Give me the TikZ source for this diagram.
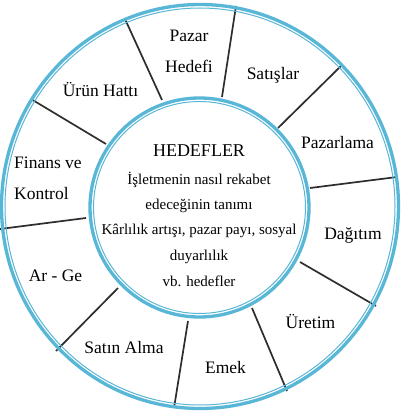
\documentclass[tikz,border=0pt]{standalone}
\usepackage{fontspec}
\setmainfont{Liberation Serif}
\definecolor{ringblue}{RGB}{88,182,214}
\definecolor{spoke}{RGB}{45,45,45}
\begin{document}
\begin{tikzpicture}[x=1pt,y=-1pt,
  ringthick/.style={draw=ringblue,line width=3.3pt},
  ringthin/.style={draw=ringblue,line width=1pt},
  spokeline/.style={draw=spoke,line width=1.7pt},
  lab/.style={inner sep=0pt,anchor=base,font=\fontsize{17.5}{20}\selectfont},
  ctr/.style={inner sep=0pt,anchor=base,font=\fontsize{15}{18}\selectfont},
  title/.style={inner sep=0pt,anchor=base,font=\fontsize{18}{21}\selectfont}]
\useasboundingbox (0,0) rectangle (402,414);
\fill[white] (0,0) rectangle (402,414);
% spokes
\coordinate (i1) at (162,100); \coordinate (o1) at (125,19);
\coordinate (i2) at (222,97);  \coordinate (o2) at (236,6);
\coordinate (i3) at (278,128); \coordinate (o3) at (342,65);
\coordinate (i4) at (310,188); \coordinate (o4) at (397,177);
\coordinate (i5) at (300,262); \coordinate (o5) at (376,306);
\coordinate (i6) at (252,308); \coordinate (o6) at (287,391);
\coordinate (i7) at (188,321); \coordinate (o7) at (174,408);
\coordinate (i8) at (118,288); \coordinate (o8) at (56,351);
\coordinate (i9) at (86,218);  \coordinate (o9) at (0,229);
\coordinate (i10) at (106,144); \coordinate (o10) at (31,99);
\foreach \k in {1,...,10} {\draw[spokeline] (i\k) -- (o\k);}
% outer ring
\coordinate (oc) at (200,206.5);
\draw[ringthick] (oc) ellipse [x radius=198.5, y radius=202];
\draw[ringthin] (oc) ellipse [x radius=195, y radius=198.5];
% inner ring
\coordinate (ic) at (199.5,207.5);
\fill[white] (ic) circle [radius=109.5];
\draw[ringthick] (ic) circle [radius=109.5];
\draw[ringthin] (ic) circle [radius=106];
% center text
\node[title] (t0) at (199,156) {HEDEFLER};
\node[ctr] (t1) at (199,184) {İşletmenin nasıl rekabet};
\node[ctr] (t2) at (199,209) {edeceğinin tanımı};
\node[ctr] (t3) at (199,234.5) {Kârlılık artışı, pazar payı, sosyal};
\node[ctr] (t4) at (199,260) {duyarlılık};
\node[ctr] (t5) at (199,286) {vb. hedefler};
% ring labels
\node[lab] (l1a) at (189,42) {Pazar};
\node[lab] (l1b) at (189,73) {Hedefi};
\node[lab] (l2) at (273,80) {Satışlar};
\node[lab] (l3) at (337.5,149) {Pazarlama};
\node[lab] (l4) at (353,239) {Dağıtım};
\node[lab] (l5) at (310.5,328) {Üretim};
\node[lab] (l6) at (225.5,373) {Emek};
\node[lab] (l7) at (124,353) {Satın Alma};
\node[lab] (l8) at (55.5,281) {Ar - Ge};
\node[lab,anchor=base west] (l9a) at (14,168) {Finans ve};
\node[lab,anchor=base west] (l9b) at (14,199) {Kontrol};
\node[lab] (l10) at (100.5,97) {Ürün Hattı};
\end{tikzpicture}
\end{document}
